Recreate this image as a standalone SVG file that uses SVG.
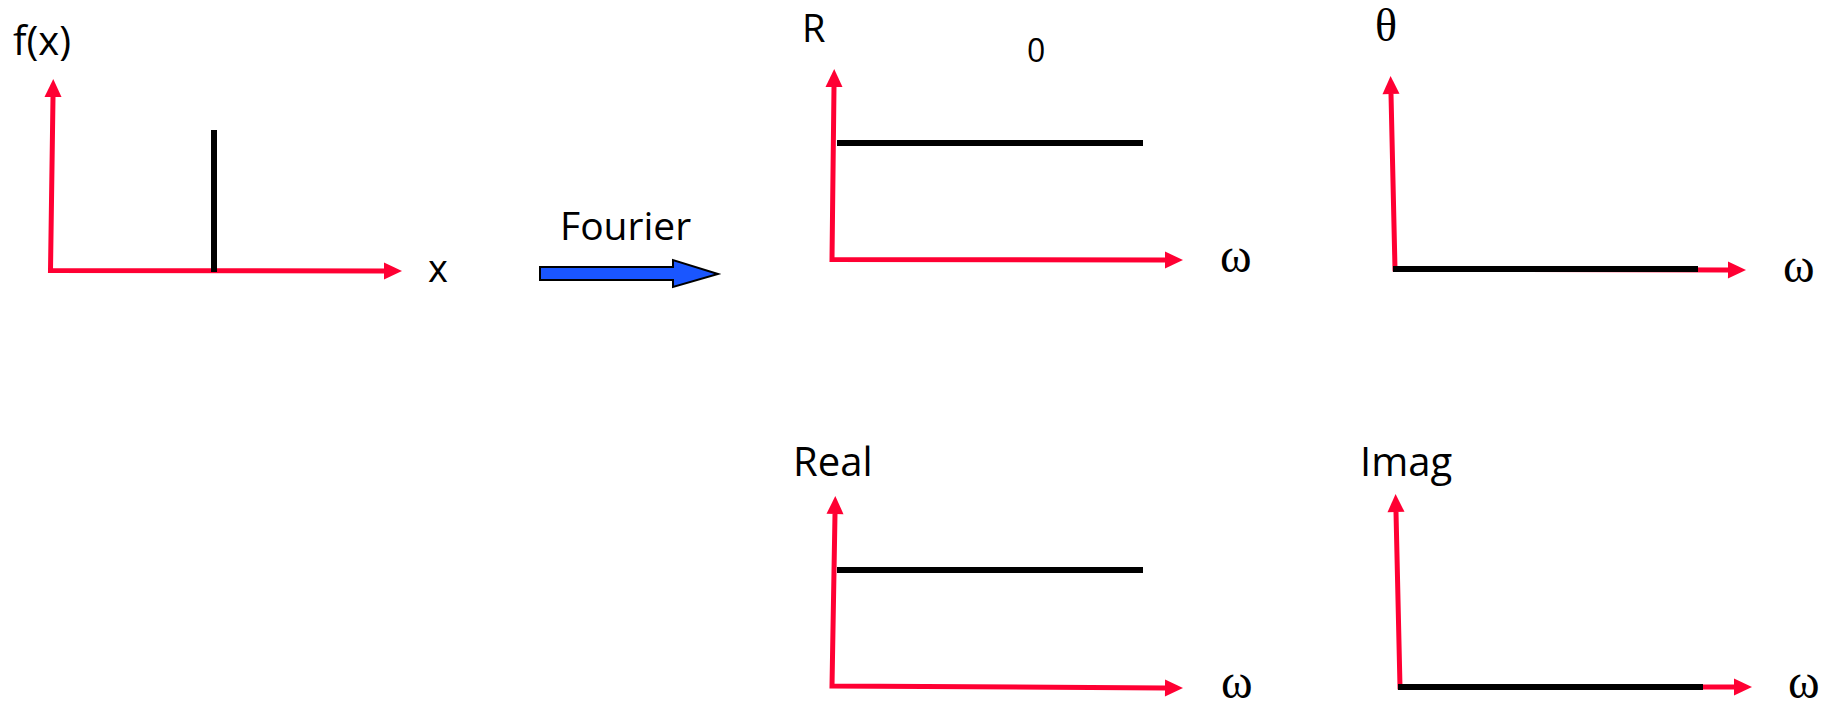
<svg xmlns="http://www.w3.org/2000/svg" width="1832" height="707" viewBox="0 0 1832 707">
  <style>
    .axis { fill: none; stroke: #ff0033; stroke-width: 5; stroke-linejoin: miter; marker-start: url(#head); marker-end: url(#head); }
    .trace { stroke: #000; stroke-width: 6; fill: none; }
    .lbl { font-family: "Open Sans", "Liberation Sans", sans-serif; fill: #000; }
    .greek { font-family: "Liberation Serif", "DejaVu Serif", serif; fill: #000; }
  </style>
  <defs>
    <marker id="head" markerUnits="userSpaceOnUse" markerWidth="20" markerHeight="20" refX="0" refY="8.5" orient="auto-start-reverse" overflow="visible">
      <path d="M0,0 L18,8.5 L0,17 Z" fill="#ff0033"/>
    </marker>
  </defs>
  <rect width="1832" height="707" fill="#fff"/>

  <!-- input signal: impulse f(x) -->
  <g id="signal">
    <path class="axis" d="M53,97 L50.5,270.5 L384,271"/>
    <line class="trace" x1="214" y1="130" x2="214" y2="272"/>
    <text class="lbl" x="13" y="55" font-size="40">f(x)</text>
    <text class="lbl" x="428" y="282" font-size="38">x</text>
  </g>

  <!-- transform arrow -->
  <g id="fourier">
    <path d="M540,267 L673,267 L673,260 L718,274 L673,287 L673,280 L540,280 Z" fill="#1a56ff" stroke="#000" stroke-width="2"/>
    <text class="lbl" x="560" y="240" font-size="39">Fourier</text>
  </g>

  <!-- magnitude spectrum -->
  <g id="magnitude">
    <path class="axis" d="M834,87 L832,259.5 L1165,260"/>
    <line class="trace" x1="837" y1="143" x2="1143" y2="143"/>
    <text class="lbl" x="802" y="42" font-size="38">R</text>
    <text class="lbl" x="1027" y="62" font-size="32">0</text>
    <text class="greek" x="1220" y="272" font-size="48">ω</text>
  </g>

  <!-- phase spectrum -->
  <g id="phase">
    <path class="axis" d="M1391,94 L1395,269 L1728,270"/>
    <line class="trace" x1="1393" y1="269" x2="1698" y2="269"/>
    <text class="greek" x="1375" y="41" font-size="46">θ</text>
    <text class="greek" x="1783" y="282" font-size="48">ω</text>
  </g>

  <!-- real part -->
  <g id="real">
    <path class="axis" d="M835,514 L832,686 L1165,688"/>
    <line class="trace" x1="837" y1="570" x2="1143" y2="570"/>
    <text class="lbl" x="793" y="476" font-size="40">Real</text>
    <text class="greek" x="1221" y="698" font-size="48">ω</text>
  </g>

  <!-- imaginary part -->
  <g id="imag">
    <path class="axis" d="M1396,512 L1400,687 L1734,687"/>
    <line class="trace" x1="1398" y1="687" x2="1703" y2="687"/>
    <text class="lbl" x="1360" y="476" font-size="40">Imag</text>
    <text class="greek" x="1788" y="698" font-size="48">ω</text>
  </g>
</svg>
